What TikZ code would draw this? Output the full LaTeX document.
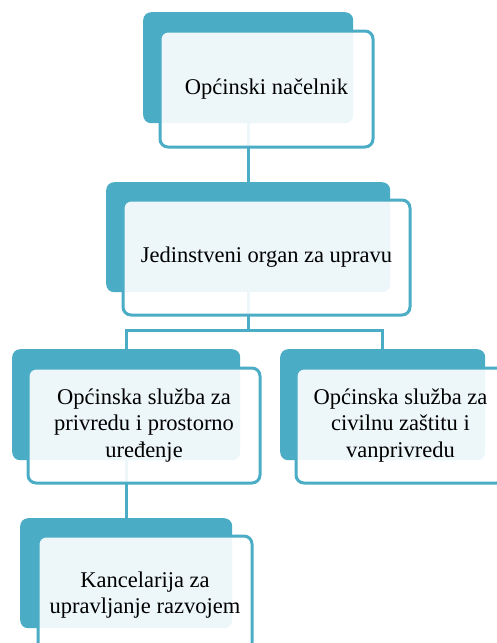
\documentclass[tikz,border=0pt]{standalone}
\usepackage{fontspec}
\setmainfont{Liberation Serif}
\usetikzlibrary{calc}
\definecolor{boxteal}{HTML}{4BACC6}

\begin{document}
\begin{tikzpicture}[x=1pt,y=-1pt,
  back/.style={rectangle,rounded corners=8pt,fill=boxteal,inner sep=0pt,anchor=north west},
  front/.style={rectangle,rounded corners=8pt,draw=boxteal,line width=3pt,fill=white,
    fill opacity=0.9,text opacity=1,align=center,inner sep=0pt,anchor=north west,
    font=\fontsize{22.5}{26.5}\selectfont},
  link/.style={draw=boxteal,line width=3pt}]

\useasboundingbox (0,0) rectangle (497,643);
\clip (0,0) rectangle (497,643);

%back boxes
\node[back,minimum width=210pt,minimum height=111pt] (b1) at (143,12) {};
\node[back,minimum width=284pt,minimum height=110pt] (b2) at (106,182) {};
\node[back,minimum width=228pt,minimum height=111pt] (b3) at (12,349) {};
\node[back,minimum width=205pt,minimum height=111pt] (b4) at (280,349) {};
\node[back,minimum width=212pt,minimum height=110pt] (b5) at (20,518) {};

%connecting them
\coordinate (fork) at ($(b2.south)+(0,38)$);
\draw[link] (b1.south) -- (b2.north);
\draw[link] (b2.south) -- (fork);
\draw[link] (b3.north) |- (fork) -| (b4.north);
\draw[link] (b3.south) -- (b5.north);

%front boxes with the names
\node[front,minimum width=213pt,minimum height=116pt] (f1) at (158.5,29.5) {Općinski načelnik};
\node[front,minimum width=287pt,minimum height=115pt] (f2) at (121.5,198.5) {Jedinstveni organ za upravu};
\node[front,minimum width=232pt,minimum height=115pt] (f3) at (26.5,366.5) {Općinska služba za\\privredu i prostorno\\uređenje};
\node[front,minimum width=209pt,minimum height=115pt] (f4) at (294.5,366.5) {Općinska služba za\\civilnu zaštitu i\\vanprivredu};
\node[front,minimum width=214pt,minimum height=118pt] (f5) at (36.5,534.5) {Kancelarija za\\upravljanje razvojem};

\end{tikzpicture}
\end{document}
